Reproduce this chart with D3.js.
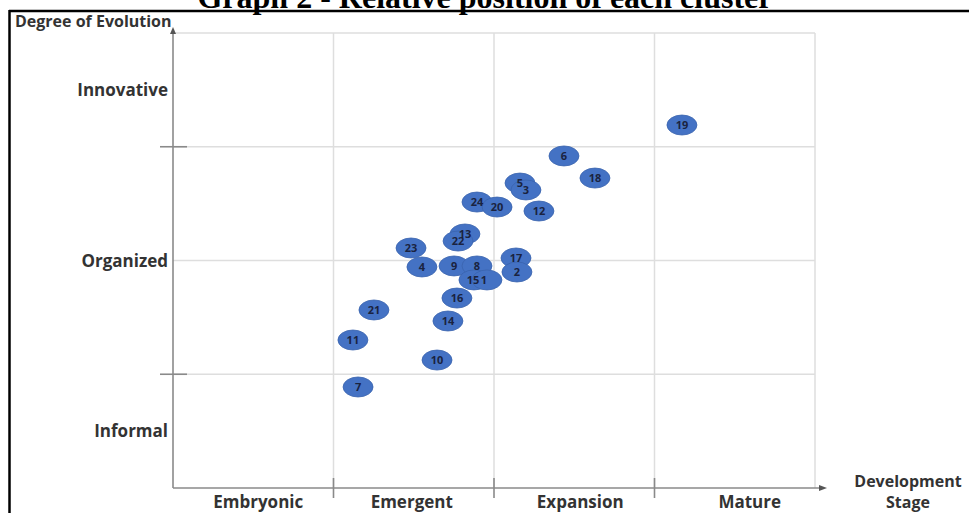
<!DOCTYPE html>
<html><head><meta charset="utf-8">
<script src="https://cdn.jsdelivr.net/npm/d3@7/dist/d3.min.js"></script>
<style>
html,body{margin:0;padding:0;background:#fff;}
svg{display:block;}
</style></head>
<body>
<svg id="chart" width="969" height="513"></svg>
<script>
// ---- data ----
const title = "Graph 2 - Relative position of each cluster";
const stageLabels = ["Embryonic", "Emergent", "Expansion", "Mature"];
const evolutionLabels = ["Informal", "Organized", "Innovative"];
const evolutionLabelPos = [0.5, 2, 3.5];
const clusterIds = ["19","6","18","5","3","24","20","12","13","22","23","17","4","9","8","2","15","1","16","21","14","11","10","7"];
const stageValues = [3.171,2.436,2.629,2.162,2.199,1.894,2.019,2.280,1.819,1.776,1.483,2.137,1.551,1.751,1.894,2.143,1.875,1.956,1.769,1.252,1.713,1.121,1.645,1.153];
const evolutionValues = [3.191,2.919,2.725,2.681,2.620,2.514,2.470,2.435,2.233,2.171,2.110,2.022,1.943,1.952,1.952,1.899,1.829,1.829,1.670,1.565,1.468,1.301,1.125,0.888];

const svg = d3.select("#chart");
const L = 173, R = 815, T = 33, B = 488;
const x = d3.scaleLinear().domain([0, 4]).range([L, R]);
const y = d3.scaleLinear().domain([0, 4]).range([B, T]);
const sans = "'Open Sans', sans-serif";

// frame + title
svg.append("text").attr("x", 485).attr("y", 8).attr("text-anchor", "middle")
  .attr("font-family", "'Liberation Serif', 'Times New Roman', serif").attr("font-weight", "bold")
  .attr("font-size", 32).attr("fill", "#000").text(title);
svg.append("line").attr("x1", 9).attr("x2", 969).attr("y1", 11).attr("y2", 11).attr("stroke", "#000").attr("stroke-width", 2.5);
svg.append("line").attr("x1", 9.5).attr("x2", 9.5).attr("y1", 10).attr("y2", 513).attr("stroke", "#000").attr("stroke-width", 2.5);

// grid
const grid = svg.append("g").attr("stroke", "#dedede").attr("stroke-width", 1.5);
grid.selectAll(".gv").data([1, 2, 3, 4]).join("line")
  .attr("x1", d => x(d)).attr("x2", d => x(d)).attr("y1", y(4)).attr("y2", y(0));
grid.selectAll(".gh").data([1, 2, 3, 4]).join("line")
  .attr("x1", x(0)).attr("x2", x(4)).attr("y1", d => y(d)).attr("y2", d => y(d));

// axes
const axisColor = "#8a8a8a";
const ax = svg.append("g").attr("stroke", axisColor).attr("stroke-width", 1.6);
ax.append("line").attr("x1", x(0)).attr("x2", 822).attr("y1", y(0)).attr("y2", y(0));
ax.append("line").attr("x1", x(0)).attr("x2", x(0)).attr("y1", y(0)).attr("y2", 32);
svg.append("path").attr("d", `M827,${y(0)} L819,${y(0) - 3} L819,${y(0) + 3} Z`).attr("fill", "#555");
svg.append("path").attr("d", `M${x(0)},27 L${x(0) - 3},34 L${x(0) + 3},34 Z`).attr("fill", "#555");
// tick crosses
ax.selectAll(".tx").data([1, 2, 3]).join("line")
  .attr("x1", d => x(d)).attr("x2", d => x(d)).attr("y1", y(0) - 10).attr("y2", y(0) + 10);
ax.selectAll(".ty").data([1, 3]).join("line")
  .attr("x1", x(0) - 13).attr("x2", x(0) + 14).attr("y1", d => y(d)).attr("y2", d => y(d));

// axis labels
const lab = svg.append("g").attr("font-family", sans).attr("font-weight", "bold").attr("fill", "#333");
lab.selectAll(".sl").data(stageLabels).join("text")
  .attr("x", (d, i) => x(i + 0.5) + [5, -2, 6, 15][i]).attr("y", 508).attr("text-anchor", "middle")
  .attr("font-size", 17).text(d => d);
lab.selectAll(".el").data(evolutionLabels).join("text")
  .attr("x", 168).attr("y", (d, i) => y(evolutionLabelPos[i]) + 6).attr("text-anchor", "end")
  .attr("font-size", 17).text(d => d);
lab.append("text").attr("x", 15).attr("y", 27).attr("font-size", 16).text("Degree of Evolution");
lab.append("text").attr("x", 908).attr("y", 487).attr("text-anchor", "middle").attr("font-size", 16).text("Development");
lab.append("text").attr("x", 908).attr("y", 508).attr("text-anchor", "middle").attr("font-size", 16).text("Stage");

// points
const pts = clusterIds.map((id, i) => ({ id, sx: stageValues[i], ey: evolutionValues[i] }));
const g = svg.append("g");
g.selectAll("ellipse").data(pts).join("ellipse")
  .attr("cx", d => x(d.sx)).attr("cy", d => y(d.ey))
  .attr("rx", 15).attr("ry", 10).attr("fill", "#4472c4").attr("stroke", "#3a63ad").attr("stroke-width", 0.8);
g.selectAll("text").data(pts).join("text")
  .attr("x", d => x(d.sx) + (d.id === "1" ? -3 : d.id === "15" ? -1 : 0))
  .attr("y", d => y(d.ey) + 4)
  .attr("text-anchor", "middle")
  .attr("font-family", sans).attr("font-weight", "bold").attr("font-size", 11)
  .attr("fill", "#1a2340").text(d => d.id);
</script>
</body></html>
